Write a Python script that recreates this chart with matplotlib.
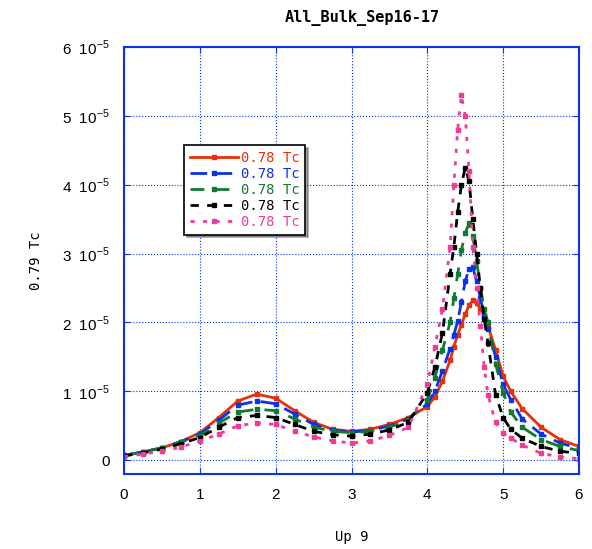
import matplotlib
matplotlib.use("Agg")
import matplotlib.pyplot as plt

plt.rcParams['font.family'] = ['DejaVu Sans Mono']

# values (y in units of 1e-5)
x = [0, 0.25, 0.5, 0.75, 1, 1.25, 1.5, 1.75, 2, 2.25, 2.5, 2.75, 3, 3.25, 3.5, 3.75,
     4, 4.1, 4.2, 4.3, 4.35, 4.4, 4.45, 4.5, 4.55, 4.6, 4.65, 4.7, 4.75, 4.8, 4.9,
     5, 5.1, 5.25, 5.5, 5.75, 6]

red = [0.07, 0.12, 0.18, 0.27, 0.40, 0.62, 0.86, 0.96, 0.90, 0.72, 0.55, 0.45, 0.42, 0.45, 0.52, 0.62,
       0.78, 0.92, 1.15, 1.45, 1.65, 1.82, 1.97, 2.12, 2.25, 2.32, 2.28, 2.20, 2.10, 1.95, 1.60,
       1.22, 1.00, 0.75, 0.48, 0.30, 0.20]
blue = [0.07, 0.12, 0.18, 0.27, 0.38, 0.58, 0.80, 0.86, 0.82, 0.67, 0.52, 0.44, 0.41, 0.43, 0.50, 0.60,
        0.82, 1.00, 1.30, 1.62, 1.82, 2.02, 2.30, 2.60, 2.78, 2.80, 2.60, 2.35, 2.10, 1.90, 1.50,
        1.10, 0.88, 0.60, 0.38, 0.25, 0.17]
green = [0.07, 0.12, 0.18, 0.26, 0.36, 0.54, 0.70, 0.74, 0.72, 0.60, 0.48, 0.42, 0.40, 0.42, 0.48, 0.58,
         0.88, 1.20, 1.60, 2.00, 2.35, 2.70, 3.05, 3.30, 3.44, 3.25, 2.90, 2.50, 2.20, 2.00, 1.40,
         0.98, 0.70, 0.48, 0.30, 0.20, 0.14]
black = [0.06, 0.11, 0.16, 0.24, 0.33, 0.48, 0.62, 0.65, 0.62, 0.52, 0.42, 0.37, 0.35, 0.38, 0.44, 0.55,
         0.98, 1.35, 1.85, 2.70, 3.10, 3.60, 4.00, 4.25, 4.05, 3.50, 3.00, 2.50, 2.05, 1.70, 0.95,
         0.62, 0.45, 0.32, 0.20, 0.13, 0.10]
pink = [0.05, 0.09, 0.13, 0.19, 0.28, 0.38, 0.50, 0.54, 0.52, 0.42, 0.34, 0.28, 0.25, 0.28, 0.36, 0.48,
        1.10, 1.65, 2.20, 3.10, 4.00, 4.80, 5.30, 5.00, 4.20, 3.10, 2.50, 1.95, 1.35, 0.95, 0.55,
        0.40, 0.32, 0.22, 0.10, 0.05, 0.02]

labels = ['0.78 Tc'] * 5
colors = ['#e8300a', '#0a32e6', '#0f7a30', '#000000', '#f03c98']
styles = ['-', (0, (6, 3)), (0, (5, 4)), (0, (3, 3)), (0, (1.5, 3))]
series = [red, blue, green, black, pink]

yticks = [0, 1, 2, 3, 4, 5, 6]
yticklabels = ['0'] + [r'%d  10$^{\mathregular{-5}}$' % v for v in yticks[1:]]

fig = plt.figure(figsize=(5.92, 5.49), dpi=100)
ax = fig.add_axes([0.2095, 0.1366, 0.7685, 0.7778])

for ys, c, ls, lab in zip(series, colors, styles, labels):
    ax.plot(x, ys, color=c, linestyle=ls, linewidth=2, marker='s', markersize=3, label=lab)

ax.set_xlim(0, 6)
ax.set_ylim(-0.2, 6)
ax.set_xticks([0, 1, 2, 3, 4, 5, 6])
ax.set_yticks(yticks)
ax.set_yticklabels(yticklabels)
ax.tick_params(direction='in', color='#0a32e6', labelsize=11, pad=10,
               top=True, right=True, length=4)
for lab in ax.get_xticklabels() + ax.get_yticklabels():
    lab.set_family('Liberation Sans')
for sp in ax.spines.values():
    sp.set_color('#0a32e6')
    sp.set_linewidth(1.5)
ax.grid(True, color='#0a32e6', linestyle=':', linewidth=0.8)

leg = ax.legend(loc='upper left', bbox_to_anchor=(0.132, 0.77), fancybox=False, shadow=True,
                edgecolor='black', framealpha=1, numpoints=1, handlelength=3.5,
                fontsize=10, borderaxespad=0, labelspacing=0.15, handletextpad=0.2)
leg.get_frame().set_linewidth(1.2)
for t, c in zip(leg.get_texts(), colors):
    t.set_color(c)

fig.text(362 / 592, 1 - 18 / 549, 'All_Bulk_Sep16-17', ha='center', va='center',
         fontsize=11, fontweight='bold')
ax.set_xlabel('Up 9', fontsize=10, labelpad=20)
ax.set_ylabel('0.79 Tc', fontsize=10, labelpad=14)

fig.savefig('out.png', dpi=100)
